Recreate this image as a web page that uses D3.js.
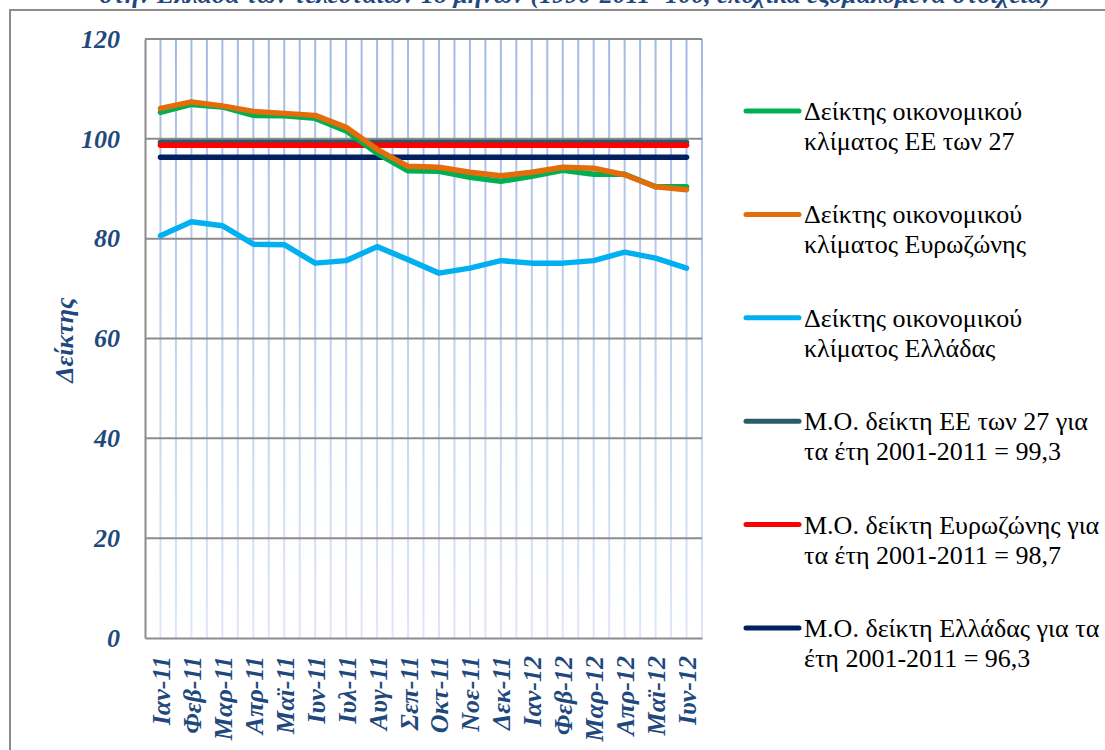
<!DOCTYPE html>
<html><head><meta charset="utf-8">
<script src="https://cdn.jsdelivr.net/npm/d3@7"></script>
<style>body{margin:0;background:#fff}svg{display:block}
svg text{font-family:"Liberation Serif","Times New Roman",serif;}</style>
</head><body>
<script>
const months = ["Ιαν-11","Φεβ-11","Μαρ-11","Απρ-11","Μαϊ-11","Ιυν-11","Ιυλ-11","Αυγ-11","Σεπ-11","Οκτ-11","Νοε-11","Δεκ-11","Ιαν-12","Φεβ-12","Μαρ-12","Απρ-12","Μαϊ-12","Ιυν-12"];
const eu27 = [105.3,106.9,106.4,104.7,104.6,104.1,101.6,97.1,93.6,93.5,92.3,91.5,92.5,93.7,92.9,92.9,90.4,90.4];
const euroArea = [106.1,107.4,106.6,105.5,105.1,104.7,102.3,97.9,94.5,94.3,93.3,92.6,93.3,94.3,94.1,92.8,90.4,89.8];
const greece = [80.6,83.4,82.6,78.9,78.8,75.1,75.6,78.4,75.8,73.1,74.1,75.6,75.1,75.1,75.6,77.3,76.1,74.1];
const avgEU27 = 99.3, avgEuro = 98.7, avgGreece = 96.3;
const yTicks = [0,20,40,60,80,100,120];
const titleText = "στην Ελλάδα των τελευταίων 18 μηνών (1990-2011=100, εποχικά εξομαλυμένα στοιχεία)";
const yTitle = "Δείκτης";
const legendItems = [
  {color:"#00b050", lines:["Δείκτης οικονομικού","κλίματος ΕΕ των 27"]},
  {color:"#e46c0a", lines:["Δείκτης οικονομικού","κλίματος Ευρωζώνης"]},
  {color:"#00b0f0", lines:["Δείκτης οικονομικού","κλίματος Ελλάδας"]},
  {color:"#2a5b66", lines:["Μ.Ο. δείκτη ΕΕ των 27 για","τα έτη 2001-2011 = 99,3"]},
  {color:"#ff0000", lines:["Μ.Ο. δείκτη Ευρωζώνης για","τα έτη 2001-2011 = 98,7"]},
  {color:"#002060", lines:["Μ.Ο. δείκτη Ελλάδας για τα","έτη 2001-2011 = 96,3"]}
];

const W=1105,H=750;
const svg=d3.select("body").append("svg").attr("width",W).attr("height",H);
const blue="#1f497d";

svg.append("rect").attr("x",10).attr("y",10).attr("width",1200).attr("height",900)
  .attr("fill","none").attr("stroke","#8c8c8c").attr("stroke-width",2);

svg.append("text").attr("x",575).attr("y",3).attr("text-anchor","middle")
  .attr("font-weight","bold").attr("font-style","italic")
  .attr("font-size",26).attr("fill",blue).text(titleText);

const L=145,T=39,R=702,B=638;
const x=d3.scaleBand().domain(months).range([L,R]);
const y=d3.scaleLinear().domain([0,120]).range([B,T]);
const cx=d=>x(d)+x.bandwidth()/2;

const defs=svg.append("defs");
const g=defs.append("linearGradient").attr("id","vg").attr("gradientUnits","userSpaceOnUse")
  .attr("x1",0).attr("y1",T).attr("x2",0).attr("y2",B);
g.append("stop").attr("offset","0%").attr("stop-color","#a3bae6");
g.append("stop").attr("offset","100%").attr("stop-color","#dfe7f6");

const vx=[];
months.forEach(m=>{vx.push(cx(m)); vx.push(x(m)+x.bandwidth());});
svg.append("g").selectAll("rect").data(vx).join("rect")
  .attr("x",d=>d-1).attr("y",T).attr("width",2).attr("height",B-T).attr("fill","url(#vg)");

svg.append("g").selectAll("line").data(yTicks.filter(d=>d>0)).join("line")
  .attr("x1",L).attr("x2",R).attr("y1",d=>y(d)).attr("y2",d=>y(d))
  .attr("stroke","#8c8c8c").attr("stroke-width",2);

const yAxis=svg.append("g").attr("transform",`translate(${L},0)`)
  .call(d3.axisLeft(y).tickValues(yTicks).tickSize(0).tickPadding(25));
yAxis.attr("font-family",null);
yAxis.select(".domain").attr("stroke","#8c8c8c").attr("stroke-width",2);
yAxis.selectAll("text").attr("font-weight","bold").attr("font-style","italic")
  .attr("font-size",26).attr("fill",blue);

const xAxis=svg.append("g").attr("transform",`translate(0,${B})`)
  .call(d3.axisBottom(x).tickSize(0));
xAxis.attr("font-family",null);
xAxis.select(".domain").attr("stroke","#8c8c8c").attr("stroke-width",2);
xAxis.selectAll("text").attr("font-weight","bold").attr("font-style","italic")
  .attr("font-size",26).attr("fill",blue)
  .attr("text-anchor","end").attr("dominant-baseline","central")
  .attr("transform","rotate(-90)").attr("x",-18).attr("y",1).attr("dy",null);

svg.append("text").attr("transform","translate(64,340) rotate(-90)").attr("text-anchor","middle")
  .attr("dominant-baseline","central")
  .attr("font-weight","bold").attr("font-style","italic")
  .attr("font-size",26).attr("fill",blue).text(yTitle);

const avgs=[{v:avgEU27,c:"#2a5b66"},{v:avgEuro,c:"#ff0000"},{v:avgGreece,c:"#002060"}];
svg.append("g").selectAll("line").data(avgs).join("line")
  .attr("x1",cx(months[0])).attr("x2",cx(months[months.length-1]))
  .attr("y1",d=>y(d.v)).attr("y2",d=>y(d.v))
  .attr("stroke",d=>d.c).attr("stroke-width",5.5).attr("stroke-linecap","round");

const line=d3.line().x((d,i)=>cx(months[i])).y(d=>y(d));
[[eu27,"#00b050"],[euroArea,"#e46c0a"],[greece,"#00b0f0"]].forEach(([data,c])=>{
  svg.append("path").datum(data).attr("d",line).attr("fill","none")
    .attr("stroke",c).attr("stroke-width",5.5).attr("stroke-linejoin","round").attr("stroke-linecap","round");
});

const lg=svg.append("g");
legendItems.forEach((it,i)=>{
  const ly=111+i*103.4;
  lg.append("line").attr("x1",746).attr("x2",799).attr("y1",ly).attr("y2",ly)
    .attr("stroke",it.color).attr("stroke-width",5).attr("stroke-linecap","round");
  it.lines.forEach((t,j)=>{
    lg.append("text").attr("x",804).attr("y",ly+9+j*30)
      .attr("font-size",26).attr("fill","#000").text(t);
  });
});
</script>
</body></html>
